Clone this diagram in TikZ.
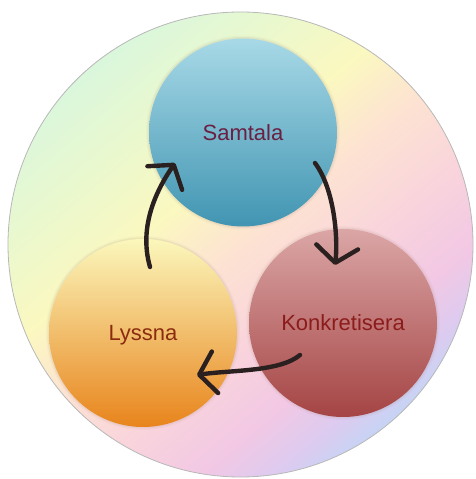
\documentclass[tikz,border=0pt]{standalone}
\usepackage{fontspec}
\newfontfamily\lblfont{Liberation Sans}
\usetikzlibrary{arrows.meta,calc}
\definecolor{cg}{HTML}{DAF7DC}
\definecolor{cgy}{HTML}{EAF8CE}
\definecolor{cy}{HTML}{FBF8C0}
\definecolor{cp}{HTML}{FDE3D2}
\definecolor{cpk}{HTML}{F9D4DC}
\definecolor{cpk2}{HTML}{F2C8E4}
\definecolor{clav}{HTML}{DCCBF0}
\definecolor{cbl}{HTML}{C6D4F4}
\definecolor{bordergray}{HTML}{B8B8B8}
\definecolor{sTop}{HTML}{A8D9E7}
\definecolor{sBot}{HTML}{4195B2}
\definecolor{sText}{HTML}{6A2042}
\definecolor{lTop}{HTML}{FBF7BC}
\definecolor{lBot}{HTML}{E8841C}
\definecolor{lText}{HTML}{8A2C10}
\definecolor{kTop}{HTML}{DBA6A6}
\definecolor{kBot}{HTML}{A54444}
\definecolor{kText}{HTML}{8C1C1C}
\definecolor{arrowink}{HTML}{2A2020}
\definecolor{haloc}{HTML}{9A8070}
\pgfdeclarehorizontalshading{bgshade}{100bp}{color(0bp)=(cg); color(25bp)=(cg); color(33.8bp)=(cgy); color(42.5bp)=(cy); color(50bp)=(cp); color(58.6bp)=(cpk); color(66.2bp)=(cpk2); color(71.5bp)=(clav); color(75bp)=(cbl); color(100bp)=(cbl)}
\begin{document}
\begin{tikzpicture}[x=1pt,y=1pt,
  bubble/.style={circle, minimum size=188pt, inner sep=0pt, outer sep=0pt,
    font=\lblfont\fontsize{22}{26}\selectfont, text height=16pt, text depth=0pt,
    preaction={draw=haloc, line width=6pt, draw opacity=0.05},
    preaction={draw=haloc, line width=3pt, draw opacity=0.10}},
  flow/.style={draw=arrowink, line width=4.4pt, line cap=round,
    -{Straight Barb[length=16pt, width=42pt, round]}}]
\useasboundingbox (0,0) rectangle (476,479);
\fill[white] (0,0) rectangle (476,479);
\node[circle, minimum size=465pt, inner sep=0pt, outer sep=0pt, shading=bgshade, shading angle=-50, draw=bordergray, line width=0.8pt] (bg) at (240.5,234.5) {};
\node[bubble, top color=sTop, bottom color=sBot, text=sText] (S) at (243,346.5) {Samtala};
\node[bubble, top color=lTop, bottom color=lBot, text=lText] (L) at (143,146) {Lyssna};
\node[bubble, top color=kTop, bottom color=kBot, text=kText] (K) at (343,156) {Konkretisera};
\coordinate (a1s) at ($(L.center)+(7,66)$);
\coordinate (a1e) at ($(S.center)+(-68,-30.5)$);
\coordinate (a2s) at ($(S.center)+(72,-30.5)$);
\coordinate (a2e) at ($(K.center)+(-8,58)$);
\coordinate (a3s) at ($(K.center)+(-43,-32)$);
\coordinate (a3e) at ($(L.center)+(54,-42)$);
\draw[flow] (a1s) .. controls (138,254) and (158,291) .. (a1e);
\draw[flow] (a2s) .. controls (335,289) and (338,239) .. (a2e);
\draw[flow] (a3s) .. controls (280,107) and (230,109) .. (a3e);
\end{tikzpicture}
\end{document}
